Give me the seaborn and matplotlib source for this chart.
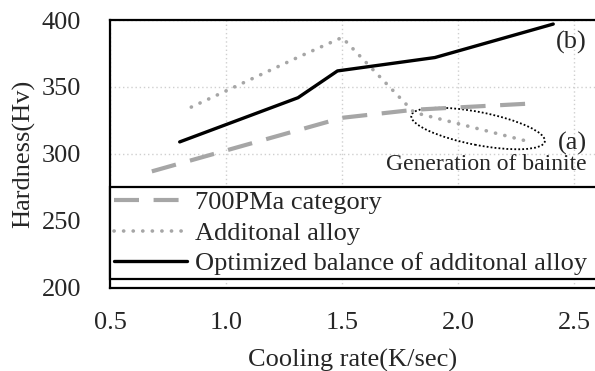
import matplotlib
matplotlib.use("Agg")
import matplotlib.pyplot as plt
import seaborn as sns
import pandas as pd
from matplotlib.patches import Ellipse
from matplotlib.transforms import ScaledTranslation

# ---- data ----
x_700 = [0.68, 1.50, 1.81, 2.35]
y_700 = [287, 327, 333, 338]
x_add = [0.85, 1.32, 1.50, 1.81, 2.31]
y_add = [335, 373, 387, 331, 309]
x_opt = [0.80, 1.31, 1.48, 1.90, 2.41]
y_opt = [309, 342, 362, 372, 397]
labels = ["700PMa category", "Additonal alloy", "Optimized balance of additonal alloy"]
x_ticks = [0.5, 1.0, 1.5, 2.0, 2.5]
y_ticks = [200, 250, 300, 350, 400]

sns.set_style("white")
plt.rcParams['font.family'] = ['Liberation Serif', 'DejaVu Serif']

fig = plt.figure(figsize=(5.95, 3.71), dpi=100)
ax = fig.add_axes([0.185, 0.224, 0.815, 0.722])

sns.lineplot(x=x_700, y=y_700, ax=ax, color="#a6a6a6", lw=3.0, label=labels[0],
             estimator=None, sort=False)
sns.lineplot(x=x_add, y=y_add, ax=ax, color="#a6a6a6", lw=2.6, label=labels[1],
             estimator=None, sort=False)
sns.lineplot(x=x_opt, y=y_opt, ax=ax, color="black", lw=2.4, label=labels[2],
             estimator=None, sort=False)

lines = ax.get_lines()
lines[0].set_dashes([6, 3.5])
lines[0].set_dash_capstyle('butt')
lines[1].set_linestyle((0, (0.05, 2.6)))
lines[1].set_dash_capstyle('round')

ax.set_xlim(0.5, 2.59)
ax.set_ylim(200, 400)
ax.set_xticks(x_ticks)
ax.set_yticks(y_ticks)
ax.set_xticklabels([f"{v:.1f}" for v in x_ticks])
ax.tick_params(axis='both', labelsize=19, length=0)
ax.tick_params(axis='y', pad=21)
ax.tick_params(axis='x', pad=17)
ax.grid(True, color="#cfcfcf", ls=(0, (1, 2)), lw=1.0)
for s in ['left', 'top', 'bottom']:
    ax.spines[s].set_color('black')
    ax.spines[s].set_linewidth(1.6)
ax.spines['right'].set_visible(False)

ax.set_xlabel("Cooling rate(K/sec)", fontsize=19, labelpad=11)
ax.set_ylabel("Hardness(Hv)", fontsize=19)
ax.yaxis.set_label_coords(-0.155, 0.5)

leg = ax.legend(loc='lower left', bbox_to_anchor=(0.0, 0.033, 1.03, 0.35),
                mode='expand', borderaxespad=0, fontsize=19, frameon=True,
                fancybox=False, handlelength=2.75, handletextpad=0.3,
                labelspacing=0.26, borderpad=0.15)
leg.get_frame().set_edgecolor('black')
leg.get_frame().set_linewidth(1.6)
leg.get_frame().set_alpha(1)

# annotations
tr = fig.dpi_scale_trans + ScaledTranslation(2.086, 319, ax.transData)
ax.add_patch(Ellipse((0, 0), 1.36, 0.33, angle=-11, transform=tr, fill=False,
                     ec='black', ls=(0, (1, 1.2)), lw=1.3))
ax.text(2.555, 383, "(b)", fontsize=19, ha='right', va='center')
ax.text(2.555, 308, "(a)", fontsize=19, ha='right', va='center')
ax.text(2.555, 292, "Generation of bainite", fontsize=17, ha='right', va='center')

fig.savefig("out.png", dpi=100)
